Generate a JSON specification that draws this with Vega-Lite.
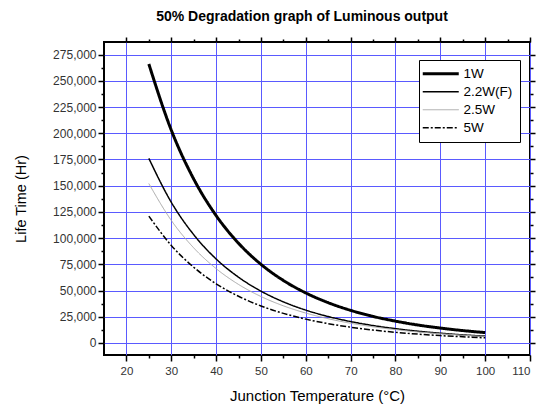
{
  "$schema": "https://vega.github.io/schema/vega-lite/v6.json",
  "width": 426,
  "height": 313,
  "autosize": {"type": "none"},
  "padding": {"left": 104, "top": 42, "right": 14, "bottom": 52},
  "background": "white",
  "title": {"text": "50% Degradation graph of Luminous output", "fontSize": 14, "fontWeight": "bold", "font": "Liberation Sans", "color": "black", "offset": 12, "dx": -15},
  "config": {
    "view": {"stroke": "black", "strokeWidth": 2},
    "font": "Liberation Sans",
    "legend": {
      "orient": "none", "legendX": 315, "legendY": 18, "strokeColor": "black", "strokeWidth": 1, "fillColor": "white",
      "padding": 7, "symbolType": "M-4,0H4", "symbolSize": 81, "symbolOffset": 8, "labelFontSize": 13.5, "labelColor": "black",
      "rowPadding": 3, "labelOffset": 16, "cornerRadius": 0
    }
  },
  "data": {"values": [
    {"s": "1W", "t": 25, "v": 266000}, {"s": "1W", "t": 30, "v": 203000}, {"s": "1W", "t": 35, "v": 156400}, {"s": "1W", "t": 40, "v": 121500},
    {"s": "1W", "t": 45, "v": 95100}, {"s": "1W", "t": 50, "v": 75000}, {"s": "1W", "t": 55, "v": 59600}, {"s": "1W", "t": 60, "v": 47700},
    {"s": "1W", "t": 65, "v": 38400}, {"s": "1W", "t": 70, "v": 31100}, {"s": "1W", "t": 75, "v": 25300}, {"s": "1W", "t": 80, "v": 20800},
    {"s": "1W", "t": 85, "v": 17100}, {"s": "1W", "t": 90, "v": 14200}, {"s": "1W", "t": 95, "v": 11800}, {"s": "1W", "t": 100, "v": 9900},
    {"s": "2.2W(F)", "t": 25, "v": 176000}, {"s": "2.2W(F)", "t": 30, "v": 134200}, {"s": "2.2W(F)", "t": 35, "v": 103300}, {"s": "2.2W(F)", "t": 40, "v": 80100},
    {"s": "2.2W(F)", "t": 45, "v": 62700}, {"s": "2.2W(F)", "t": 50, "v": 49400}, {"s": "2.2W(F)", "t": 55, "v": 39200}, {"s": "2.2W(F)", "t": 60, "v": 31300},
    {"s": "2.2W(F)", "t": 65, "v": 25200}, {"s": "2.2W(F)", "t": 70, "v": 20400}, {"s": "2.2W(F)", "t": 75, "v": 16600}, {"s": "2.2W(F)", "t": 80, "v": 13600},
    {"s": "2.2W(F)", "t": 85, "v": 11200}, {"s": "2.2W(F)", "t": 90, "v": 9300}, {"s": "2.2W(F)", "t": 95, "v": 7700}, {"s": "2.2W(F)", "t": 100, "v": 6500},
    {"s": "2.5W", "t": 25, "v": 152000}, {"s": "2.5W", "t": 30, "v": 116900}, {"s": "2.5W", "t": 35, "v": 90700}, {"s": "2.5W", "t": 40, "v": 70900},
    {"s": "2.5W", "t": 45, "v": 55800}, {"s": "2.5W", "t": 50, "v": 44300}, {"s": "2.5W", "t": 55, "v": 35400}, {"s": "2.5W", "t": 60, "v": 28500},
    {"s": "2.5W", "t": 65, "v": 23100}, {"s": "2.5W", "t": 70, "v": 18800}, {"s": "2.5W", "t": 75, "v": 15400}, {"s": "2.5W", "t": 80, "v": 12700},
    {"s": "2.5W", "t": 85, "v": 10500}, {"s": "2.5W", "t": 90, "v": 8800}, {"s": "2.5W", "t": 95, "v": 7400}, {"s": "2.5W", "t": 100, "v": 6200},
    {"s": "5W", "t": 25, "v": 121000}, {"s": "5W", "t": 30, "v": 93000}, {"s": "5W", "t": 35, "v": 72200}, {"s": "5W", "t": 40, "v": 56400},
    {"s": "5W", "t": 45, "v": 44500}, {"s": "5W", "t": 50, "v": 35300}, {"s": "5W", "t": 55, "v": 28200}, {"s": "5W", "t": 60, "v": 22700},
    {"s": "5W", "t": 65, "v": 18400}, {"s": "5W", "t": 70, "v": 15000}, {"s": "5W", "t": 75, "v": 12300}, {"s": "5W", "t": 80, "v": 10100},
    {"s": "5W", "t": 85, "v": 8400}, {"s": "5W", "t": 90, "v": 7000}, {"s": "5W", "t": 95, "v": 5900}, {"s": "5W", "t": 100, "v": 4900}
  ]},
  "layer": [
    {
      "mark": {"type": "line", "interpolate": "monotone", "clip": true},
      "encoding": {
        "x": {"field": "t", "type": "quantitative",
          "scale": {"domain": [15, 110], "nice": false, "zero": false},
          "axis": {
            "values": [20, 25, 30, 35, 40, 45, 50, 55, 60, 65, 70, 75, 80, 85, 90, 95, 100, 105, 110],
            "labelExpr": "datum.value % 10 === 0 ? datum.label : ''",
            "tickSize": {"condition": {"test": "datum.value % 10 === 0", "value": 6}, "value": 3},
            "grid": true, "gridColor": "#5a5aff", "gridWidth": 1,
            "gridOpacity": {"condition": {"test": "datum.value % 10 === 0", "value": 1}, "value": 0},
            "domain": false, "tickColor": "black", "tickWidth": 1.5,
            "labelFontSize": 11.5, "labelColor": "#333", "labelPadding": 4, "labelFont": "Liberation Sans",
            "title": "Junction Temperature (°C)", "titleFontSize": 15, "titleFontWeight": "normal", "titlePadding": 12, "titleColor": "black", "titleFont": "Liberation Sans"
          }},
        "y": {"field": "v", "type": "quantitative",
          "scale": {"domain": [-11500, 287000], "nice": false, "zero": false},
          "axis": {
            "values": [0, 12500, 25000, 37500, 50000, 62500, 75000, 87500, 100000, 112500, 125000, 137500, 150000, 162500, 175000, 187500, 200000, 212500, 225000, 237500, 250000, 262500, 275000],
            "labelExpr": "datum.value % 25000 === 0 ? format(datum.value, ',') : ''",
            "tickSize": {"condition": {"test": "datum.value % 25000 === 0", "value": 6}, "value": 3},
            "grid": true, "gridColor": "#5a5aff", "gridWidth": 1,
            "gridOpacity": {"condition": {"test": "datum.value % 25000 === 0", "value": 1}, "value": 0},
            "domain": false, "tickColor": "black", "tickWidth": 1.5,
            "labelFontSize": 12, "labelColor": "#333", "labelPadding": 2, "labelFont": "Liberation Sans",
            "title": "Life Time (Hr)", "titleFontSize": 14.5, "titleFontWeight": "normal", "titlePadding": 24, "titleColor": "black", "titleFont": "Liberation Sans"
          }},
        "color": {"field": "s", "type": "nominal", "title": null,
          "scale": {"domain": ["1W", "2.2W(F)", "2.5W", "5W"], "range": ["black", "black", "#a8a8a8", "black"]}},
        "strokeWidth": {"field": "s", "type": "nominal", "title": null,
          "scale": {"type": "ordinal", "domain": ["1W", "2.2W(F)", "2.5W", "5W"], "range": [3, 1.5, 1, 1.5]}},
        "strokeDash": {"field": "s", "type": "nominal", "title": null,
          "scale": {"domain": ["1W", "2.2W(F)", "2.5W", "5W"], "range": [[1, 0], [1, 0], [1, 0], [6, 2, 2, 2]]}}
      }
    },
    {
      "mark": {"type": "point", "opacity": 0},
      "encoding": {
        "x": {"field": "t", "type": "quantitative",
          "scale": {"domain": [15, 110], "nice": false, "zero": false},
          "axis": {"orient": "top", "values": [20, 25, 30, 35, 40, 45, 50, 55, 60, 65, 70, 75, 80, 85, 90, 95, 100, 105, 110],
            "labels": false, "grid": false, "domain": false, "title": null, "tickColor": "black", "tickWidth": 1.5,
            "tickSize": {"condition": {"test": "datum.value % 10 === 0", "value": 5}, "value": 3}}},
        "y": {"field": "v", "type": "quantitative",
          "scale": {"domain": [-11500, 287000], "nice": false, "zero": false},
          "axis": {"orient": "right", "values": [0, 12500, 25000, 37500, 50000, 62500, 75000, 87500, 100000, 112500, 125000, 137500, 150000, 162500, 175000, 187500, 200000, 212500, 225000, 237500, 250000, 262500, 275000],
            "labels": false, "grid": false, "domain": false, "title": null, "tickColor": "black", "tickWidth": 1.5,
            "tickSize": {"condition": {"test": "datum.value % 25000 === 0", "value": 5}, "value": 3}}}
      }
    }
  ],
  "resolve": {"axis": {"x": "independent", "y": "independent"}}
}
